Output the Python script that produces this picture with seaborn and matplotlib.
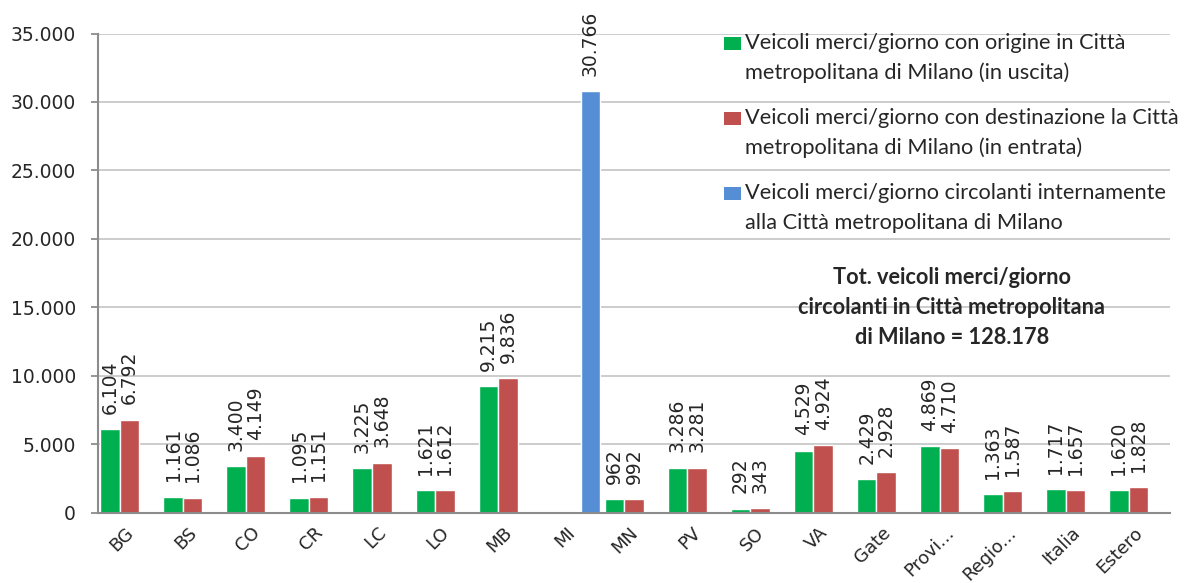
import numpy as np
import pandas as pd
import seaborn as sns
import matplotlib.pyplot as plt
import matplotlib.transforms as mtransforms
from matplotlib.patches import Rectangle
from matplotlib.ticker import FuncFormatter, MultipleLocator

# data
categories = ["BG", "BS", "CO", "CR", "LC", "LO", "MB", "MI", "MN", "PV",
              "SO", "VA", "Gate", "Provi...", "Regio...", "Italia", "Estero"]
origine = [6104, 1161, 3400, 1095, 3225, 1621, 9215, np.nan, 962, 3286,
           292, 4529, 2429, 4869, 1363, 1717, 1620]
destinazione = [6792, 1086, 4149, 1151, 3648, 1612, 9836, np.nan, 992, 3281,
                343, 4924, 2928, 4710, 1587, 1657, 1828]
interni_cat = ["MI"]
interni = [30766]

s_orig = "Veicoli merci/giorno con origine in Città\nmetropolitana di Milano (in uscita)"
s_dest = "Veicoli merci/giorno con destinazione la Città\nmetropolitana di Milano (in entrata)"
s_int = "Veicoli merci/giorno circolanti internamente\nalla Città metropolitana di Milano"
series = [s_orig, s_dest, s_int]
colors = {s_orig: "#00B050", s_dest: "#C0504D", s_int: "#558ED5"}
note = "Tot. veicoli merci/giorno\ncircolanti in Città metropolitana\ndi Milano = 128.178"

rows = []
for c, v in zip(categories, origine):
    if not np.isnan(v):
        rows.append((c, s_orig, v))
for c, v in zip(categories, destinazione):
    if not np.isnan(v):
        rows.append((c, s_dest, v))
for c, v in zip(interni_cat, interni):
    rows.append((c, s_int, v))
df = pd.DataFrame(rows, columns=["area", "serie", "veicoli"])

sns.set_style("white")
plt.rcParams["font.family"] = ["DejaVu Sans"]

W, H = 1185, 583


def it_fmt(v, pos=None):
    return f"{v:,.0f}".replace(",", ".")


def fx(px):
    return px / W


def fy(py):
    return 1 - py / H


fig = plt.figure(figsize=(W / 100, H / 100), dpi=100)
ax = fig.add_axes([fx(98), fy(512.5), (1170 - 98) / W, 479 / H])

sns.barplot(data=df, x="area", y="veicoli", hue="serie", order=categories,
            hue_order=series, palette=colors, width=0.93, errorbar=None,
            saturation=1, ax=ax, legend=False)

for cont in ax.containers:
    ax.bar_label(cont, fmt=it_fmt, rotation=90, padding=11, fontsize=13.5)

ax.set_ylim(0, 35000)
ax.set_xlim(-0.5, len(categories) - 0.5)
ax.yaxis.set_major_locator(MultipleLocator(5000))
ax.yaxis.set_major_formatter(FuncFormatter(it_fmt))
ax.yaxis.grid(True, color="#C8C8C8", linewidth=1.3)
ax.set_axisbelow(True)
ax.set_xlabel("")
ax.set_ylabel("")

ax.set_xticks(np.arange(len(categories)))
ax.set_xticklabels(categories, rotation=45, ha="right", rotation_mode="anchor")
ax.set_xticks(np.arange(len(categories) + 1) - 0.5, minor=True)
ax.tick_params(axis="x", which="major", length=0, labelsize=13, pad=8)
ax.tick_params(axis="x", which="minor", length=6, width=1.3, color="#8C8C8C", direction="out")
ax.tick_params(axis="y", length=5, width=1.3, color="#8C8C8C", labelsize=13.5, pad=11, left=True)
shift = mtransforms.ScaledTranslation(-3.5 / 72, 0, fig.dpi_scale_trans)
for lab in ax.get_xticklabels():
    lab.set_transform(lab.get_transform() + shift)

for side in ["top", "right"]:
    ax.spines[side].set_visible(False)
for side in ["left", "bottom"]:
    ax.spines[side].set_color("#8C8C8C")
    ax.spines[side].set_linewidth(1.5)

# legend drawn by hand: swatch next to the first line of each two-line label
for k, s in enumerate(series):
    y0 = 43 + 75 * k
    fig.add_artist(Rectangle((fx(724), fy(y0 + 7)), 17 / W, 13 / H,
                             transform=fig.transFigure, facecolor=colors[s], edgecolor="none"))
    for j, line in enumerate(s.split("\n")):
        fig.text(fx(745), fy(y0 + 30 * j), line, ha="left", va="center",
                 family="Lato", fontsize=15.7)

for j, line in enumerate(note.split("\n")):
    fig.text(fx(952), fy(278 + 30 * j), line, ha="center", va="center",
             family="Lato", fontsize=15.7, fontweight="bold")

plt.savefig("out.png", dpi=100)
